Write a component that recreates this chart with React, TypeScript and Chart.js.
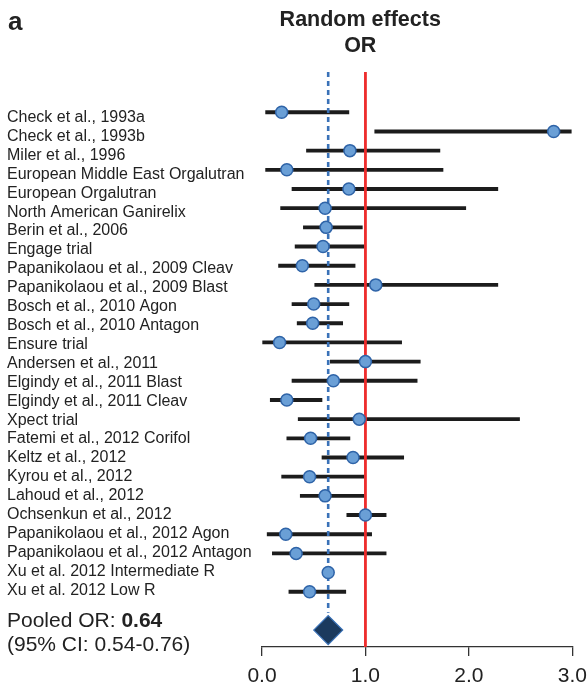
import React, { useEffect, useRef } from "react";
import { Chart, registerables } from "chart.js";

Chart.register(...registerables);

// Study labels, top to bottom
const studies: string[] = [
  "Check et al., 1993a",
  "Check et al., 1993b",
  "Miler et al., 1996",
  "European Middle East Orgalutran",
  "European Orgalutran",
  "North American Ganirelix",
  "Berin et al., 2006",
  "Engage trial",
  "Papanikolaou et al., 2009 Cleav",
  "Papanikolaou et al., 2009 Blast",
  "Bosch et al., 2010 Agon",
  "Bosch et al., 2010 Antagon",
  "Ensure trial",
  "Andersen et al., 2011",
  "Elgindy et al., 2011 Blast",
  "Elgindy et al., 2011 Cleav",
  "Xpect trial",
  "Fatemi et al., 2012 Corifol",
  "Keltz et al., 2012",
  "Kyrou et al., 2012",
  "Lahoud et al., 2012",
  "Ochsenkun et al., 2012",
  "Papanikolaou et al., 2012 Agon",
  "Papanikolaou et al., 2012 Antagon",
  "Xu et al. 2012 Intermediate R",
  "Xu et al. 2012 Low R",
];

// Point estimates (OR) and 95% confidence limits per study
const oddsRatio: number[] = [
  0.19, 2.82, 0.85, 0.24, 0.84, 0.61, 0.62, 0.59, 0.39, 1.1, 0.5, 0.49, 0.17,
  1.0, 0.69, 0.24, 0.94, 0.47, 0.88, 0.46, 0.61, 1.0, 0.23, 0.33, 0.64, 0.46,
];
const ciLower: number[] = [
  0.035, 1.09, 0.43, 0.035, 0.29, 0.18, 0.4, 0.32, 0.16, 0.51, 0.29, 0.34, 0.0,
  0.66, 0.29, 0.08, 0.35, 0.24, 0.58, 0.19, 0.37, 0.82, 0.05, 0.1, 0.6, 0.26,
];
const ciUpper: number[] = [
  0.84, 2.99, 1.72, 1.75, 2.28, 1.97, 0.97, 0.99, 0.9, 2.28, 0.84, 0.78, 1.35,
  1.53, 1.5, 0.58, 2.49, 0.85, 1.37, 0.99, 0.99, 1.2, 1.06, 1.2, 0.68, 0.81,
];

// Pooled random-effects estimate
const pooledOR = 0.64;
const pooledLower = 0.54;
const pooledUpper = 0.76;

// Line of no effect and x-axis ticks
const nullOR = 1.0;
const xTicks: number[] = [0, 1, 2, 3];

const FONT = '"Liberation Sans", Arial, Helvetica, sans-serif';
const TEXT = "#222222";
const Y_TOP = -1.1;
const Y_BOTTOM = 28.88;
const pooledRow = studies.length + 2;
const LABEL_PITCH = 0.986;

const forestText = {
  id: "forestText",
  afterDraw(chart: any) {
    const ctx: CanvasRenderingContext2D = chart.ctx;
    const y = chart.scales.y;
    const x = chart.scales.x;
    ctx.save();
    ctx.fillStyle = TEXT;
    ctx.textBaseline = "alphabetic";
    ctx.textAlign = "left";

    // study names
    ctx.font = `16px ${FONT}`;
    studies.forEach((name, i) => {
      ctx.fillText(name, 7, y.getPixelForValue(1 + i * LABEL_PITCH) + 9.7);
    });

    // pooled summary
    const py = y.getPixelForValue(pooledRow);
    const prefix = "Pooled OR: ";
    ctx.font = `21px ${FONT}`;
    ctx.fillText(prefix, 7, py - 3);
    const w = ctx.measureText(prefix).width;
    ctx.font = `bold 21px ${FONT}`;
    ctx.fillText(pooledOR.toFixed(2), 7 + w, py - 3);
    ctx.font = `21px ${FONT}`;
    ctx.fillText(
      `(95% CI: ${pooledLower.toFixed(2)}-${pooledUpper.toFixed(2)})`,
      7,
      py + 21
    );

    // heading
    ctx.textAlign = "center";
    ctx.font = `bold 21.5px ${FONT}`;
    const cx = x.getPixelForValue(0.95);
    ctx.fillText("Random effects", cx, 26);
    ctx.fillText("OR", cx, 51.7);

    // panel letter
    ctx.textAlign = "left";
    ctx.font = `bold 26px ${FONT}`;
    ctx.fillText("a", 8, 30);
    ctx.restore();
  },
};

export default function App() {
  const canvasRef = useRef<HTMLCanvasElement | null>(null);

  useEffect(() => {
    if (!canvasRef.current) return;
    const chart = new Chart(canvasRef.current, {
      type: "scatter",
      data: {
        datasets: [
          {
            // study estimates
            type: "scatter",
            data: oddsRatio.map((v, i) => ({ x: v, y: i + 1 })),
            pointRadius: 6,
            pointBackgroundColor: "#6A9FD6",
            pointBorderColor: "#2F64A8",
            pointBorderWidth: 1.5,
            order: 0,
          },
          {
            // pooled estimate
            type: "scatter",
            data: [{ x: pooledOR, y: pooledRow }],
            pointStyle: "rectRot",
            pointRadius: 14.5,
            pointBackgroundColor: "#1B3A5E",
            pointBorderColor: "#3A72B8",
            pointBorderWidth: 1.2,
            order: 0,
          },
          {
            // line of no effect
            type: "line",
            data: [
              { x: nullOR, y: Y_TOP },
              { x: nullOR, y: Y_BOTTOM },
            ],
            borderColor: "#EE2C2C",
            borderWidth: 2.8,
            pointRadius: 0,
            clip: false,
            order: 1,
          },
          {
            // pooled estimate reference
            type: "line",
            data: [
              { x: pooledOR, y: Y_TOP },
              { x: pooledOR, y: 27.1 },
            ],
            borderColor: "#3A72B8",
            borderWidth: 2.6,
            borderDash: [5, 4],
            pointRadius: 0,
            clip: false,
            order: 1,
          },
          {
            // confidence intervals
            type: "bar",
            indexAxis: "y",
            data: studies.map((_, i) => ({
              y: i + 1,
              x: [ciLower[i], ciUpper[i]],
            })),
            barThickness: 3.2,
            backgroundColor: "#1C1C1C",
            borderWidth: 0,
            grouped: false,
            order: 2,
          } as any,
        ],
      },
      options: {
        responsive: false,
        animation: false,
        devicePixelRatio: 1,
        events: [],
        layout: { padding: { left: 262, right: 12, top: 72, bottom: 0 } },
        plugins: {
          legend: { display: false },
          tooltip: { enabled: false },
          title: { display: false },
        },
        scales: {
          x: {
            type: "linear",
            position: "bottom",
            min: 0,
            max: 3,
            offset: false,
            afterBuildTicks: (s: any) => {
              s.ticks = xTicks.map((v) => ({ value: v }));
            },
            afterFit: (s: any) => {
              s.height = 40;
              s.paddingLeft = 0;
              s.paddingRight = 0;
            },
            ticks: {
              callback: (v: any) => Number(v).toFixed(1),
              font: { size: 21, family: FONT },
              color: TEXT,
              padding: 8,
              maxRotation: 0,
              autoSkip: false,
            },
            grid: {
              drawOnChartArea: false,
              drawTicks: true,
              tickLength: 9,
              color: "#333333",
              lineWidth: 1.3,
            },
            border: { display: true, color: "#333333", width: 1.3 },
          },
          y: {
            type: "linear",
            reverse: true,
            min: Y_TOP,
            max: Y_BOTTOM,
            offset: false,
            display: false,
          },
        },
      },
      plugins: [forestText],
    } as any);
    return () => chart.destroy();
  }, []);

  return (
    <div style={{ position: "absolute", left: 0, top: 0, width: 588, height: 687 }}>
      <canvas ref={canvasRef} width={588} height={687} />
    </div>
  );
}
